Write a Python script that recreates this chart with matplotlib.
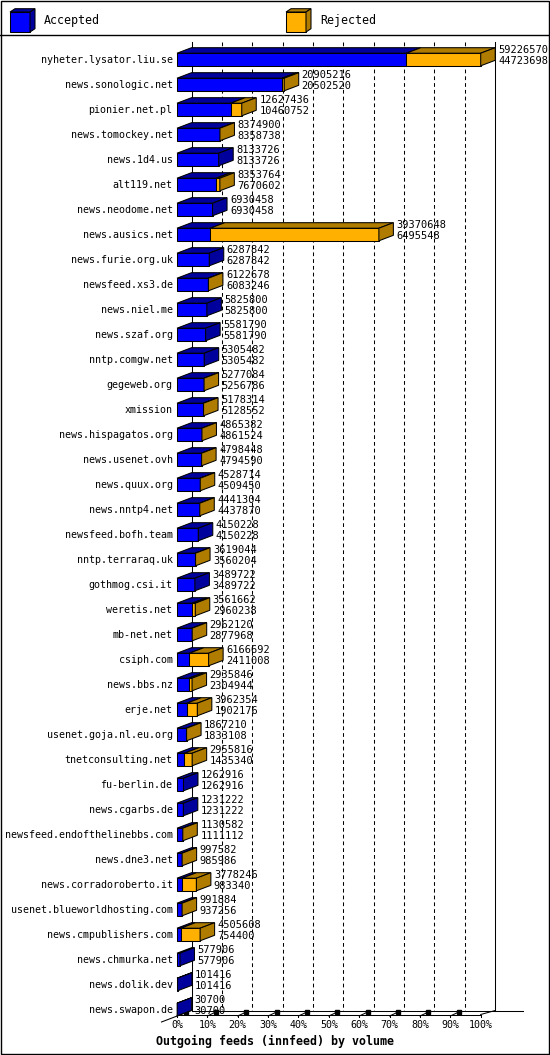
import matplotlib
matplotlib.use('Agg')
import matplotlib.pyplot as plt
from matplotlib.patches import Polygon, Rectangle

hosts = ['nyheter.lysator.liu.se', 'news.sonologic.net', 'pionier.net.pl',
         'news.tomockey.net', 'news.1d4.us', 'alt119.net', 'news.neodome.net',
         'news.ausics.net', 'news.furie.org.uk', 'newsfeed.xs3.de', 'news.niel.me',
         'news.szaf.org', 'nntp.comgw.net', 'gegeweb.org', 'xmission',
         'news.hispagatos.org', 'news.usenet.ovh', 'news.quux.org', 'news.nntp4.net',
         'newsfeed.bofh.team', 'nntp.terraraq.uk', 'gothmog.csi.it', 'weretis.net',
         'mb-net.net', 'csiph.com', 'news.bbs.nz', 'erje.net', 'usenet.goja.nl.eu.org',
         'tnetconsulting.net', 'fu-berlin.de', 'news.cgarbs.de',
         'newsfeed.endofthelinebbs.com', 'news.dne3.net', 'news.corradoroberto.it',
         'usenet.blueworldhosting.com', 'news.cmpublishers.com', 'news.chmurka.net',
         'news.dolik.dev', 'news.swapon.de']

# total offered volume (first number) and accepted volume (second number)
total = [59226570, 20905216, 12627436, 8374900, 8133726, 8353764, 6930458,
         39370648, 6287842, 6122678, 5825800, 5581790, 5305482, 5277084, 5178314,
         4865382, 4798448, 4528714, 4441304, 4150228, 3619044, 3489722, 3561662,
         2962120, 6166692, 2935846, 3962354, 1867210, 2955816, 1262916, 1231222,
         1130582, 997582, 3778246, 991884, 4505608, 577906, 101416, 30700]
accepted = [44723698, 20502520, 10460752, 8358738, 8133726, 7670602, 6930458,
            6495548, 6287842, 6083246, 5825800, 5581790, 5305482, 5256786, 5128552,
            4861524, 4794590, 4509450, 4437870, 4150228, 3560204, 3489722, 2960238,
            2877968, 2411008, 2304944, 1902176, 1833108, 1435340, 1262916, 1231222,
            1111112, 985986, 983340, 937256, 754400, 577906, 101416, 30700]

pct_ticks = [0, 10, 20, 30, 40, 50, 60, 70, 80, 90, 100]

BLUE, BLUE_D = '#0000ff', '#00009c'
ORANGE, ORANGE_D = '#ffb000', '#b07c00'
MONO = 'DejaVu Sans Mono'

W, H = 550, 1055
X0, PX_PER_PCT = 177.0, 3.037    # front 0% and pixels per percent
Y0, ROW_H = 59.5, 25.0           # centre of first row and row pitch
DEPTH_X, DEPTH_Y = 14.5, 5.5
HALF = 6.3

fig = plt.figure(figsize=(W / 100, H / 100), dpi=100)
ax = fig.add_axes([0, 0, 1, 1])
ax.set_xlim(-X0 / PX_PER_PCT, (W - X0) / PX_PER_PCT)
ax.set_ylim((H - Y0) / ROW_H, -Y0 / ROW_H)
ax.axis('off')


def row(px):
    return (px - Y0) / ROW_H


def pct(px):
    return (px - X0) / PX_PER_PCT


dx = DEPTH_X / PX_PER_PCT
dy = DEPTH_Y / ROW_H
hh = HALF / ROW_H
lw = 0.75

# back wall grid
y_top, y_back, y_front = row(42), row(1010.5), row(1014.5)
for p in pct_ticks:
    if p in (0, 100):
        ax.plot([p + dx, p + dx], [y_top, y_back], color='black', lw=lw, zorder=1)
    else:
        ax.plot([p + dx, p + dx], [y_top, y_back], color='black', lw=lw,
                dashes=(3.6, 2.9), zorder=1)

# floor
ax.plot([dx, pct(523)], [y_back, y_back], color='black', lw=lw, zorder=1)
ax.plot([0, 100], [y_front, y_front], color='black', lw=lw, zorder=1)
ax.plot([100, 100 + dx], [y_front, y_back], color='black', lw=lw, zorder=1)
ax.plot([pct(161.5), dx], [row(1022), y_back], color='black', lw=lw, zorder=1)
for p in pct_ticks:
    ax.plot([p, p], [y_front, row(1017)], color='black', lw=lw, zorder=1)
    if p < 100:
        ax.plot([p, p + 2.8], [row(1016), row(1012)], color='black', lw=lw, zorder=1)
        ax.plot([p + 2.8], [row(1012)], marker='s', ms=2.2, color='black', zorder=1)
    ax.text(p, row(1025.5), f'{p}%', ha='center', va='center',
            family=MONO, fontsize=7.2)

# bars
vmax = max(total)
for i, (name, t, a) in enumerate(zip(hosts, total, accepted)):
    pa = a / vmax * 100
    pt = t / vmax * 100
    top, bot = i - hh, i + hh
    for x1, x2, c, cd in [(0, pa, BLUE, BLUE_D), (pa, pt, ORANGE, ORANGE_D)]:
        if x2 <= x1:
            continue
        ax.add_patch(Rectangle((x1, top), x2 - x1, 2 * hh, fc=c, ec='black',
                               lw=lw, zorder=3))
        ax.add_patch(Polygon([(x1, top), (x2, top), (x2 + dx, top - dy),
                              (x1 + dx, top - dy)], closed=True, fc=cd,
                             ec='black', lw=lw, zorder=3))
    side = ORANGE_D if t > a else BLUE_D
    ax.add_patch(Polygon([(pt, top), (pt + dx, top - dy), (pt + dx, bot - dy),
                          (pt, bot)], closed=True, fc=side, ec='black', lw=lw,
                         zorder=3))
    ax.text(pct(172.5), i + 0.02, name, ha='right', va='center',
            family=MONO, fontsize=7.2)
    xn = pt + dx + 3 / PX_PER_PCT
    ax.text(xn, i - 9.5 / ROW_H, str(t), ha='left', va='center',
            family=MONO, fontsize=7.5, zorder=4)
    ax.text(xn, i + 1.5 / ROW_H, str(a), ha='left', va='center',
            family=MONO, fontsize=7.5, zorder=4)

ax.text(pct(275), row(1041.5), 'Outgoing feeds (innfeed) by volume',
        ha='center', va='center', family=MONO, fontsize=8.4, fontweight='bold')

# frame and legend in pixel units
deco = fig.add_axes([0, 0, 1, 1])
deco.set_xlim(0, W)
deco.set_ylim(H, 0)
deco.axis('off')
deco.add_patch(Rectangle((0.5, 0.5), W - 1.5, H - 1.5, fill=False,
                         ec='black', lw=1))
deco.plot([0, W], [34.5, 34.5], color='black', lw=1)

for x, (c, cd), label in [(10, (BLUE, BLUE_D), 'Accepted'),
                          (286, (ORANGE, ORANGE_D), 'Rejected')]:
    deco.add_patch(Rectangle((x, 12), 20, 20, fc=c, ec='black', lw=lw))
    deco.add_patch(Polygon([(x, 12), (x + 20, 12), (x + 25, 8.7), (x + 5, 8.7)],
                           closed=True, fc=cd, ec='black', lw=lw))
    deco.add_patch(Polygon([(x + 20, 12), (x + 25, 8.7), (x + 25, 28.7),
                            (x + 20, 32)], closed=True, fc=cd, ec='black', lw=lw))
    deco.text(x + 34, 20.5, label, ha='left', va='center', family=MONO,
              fontsize=8.4)

fig.savefig('out.png', dpi=100)
